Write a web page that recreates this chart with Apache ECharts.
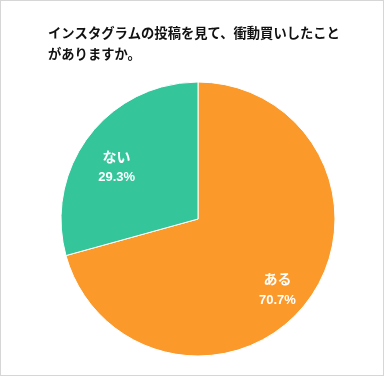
<!DOCTYPE html>
<html><head><meta charset="utf-8">
<script src="https://cdn.jsdelivr.net/npm/echarts@6/dist/echarts.min.js"></script>
<style>
html,body{margin:0;padding:0;background:#fff;}
#c{position:absolute;left:0;top:0;width:382px;height:374px;border:1px solid #d6d6d6;}
</style></head>
<body><div id="c"></div>
<script>
const titleText = 'インスタグラムの投稿を見て、衝動買いしたこと\nがありますか。';
const categories = ['ある', 'ない'];
const values = [70.7, 29.3];
const colors = ['#fb9a2b', '#35c59b'];

const chart = echarts.init(document.getElementById('c'));
const data = categories.map((n, i) => ({ name: n, value: values[i], itemStyle: { color: colors[i] } }));
const font = '"Liberation Sans", "Noto Sans CJK JP", sans-serif';
chart.setOption({
  animation: false,
  title: {
    text: titleText, left: 42, top: 18,
    textStyle: { fontSize: 13.3, fontWeight: 'bold', color: '#111', lineHeight: 21, fontFamily: font }
  },
  series: [
    {
      type: 'pie', center: [197, 218], radius: [0, 137], startAngle: 90, clockwise: true,
      data: data, silent: true,
      itemStyle: { borderColor: '#fff', borderWidth: 1 },
      label: { show: false }, labelLine: { show: false }
    },
    {
      type: 'pie', center: [197, 218], radius: [0, 196], startAngle: 90, clockwise: true,
      data: data.map(d => ({ name: d.name, value: d.value, itemStyle: { color: 'rgba(0,0,0,0)' } })),
      silent: true, z: 5,
      label: {
        show: true, position: 'inside', color: '#fff', fontFamily: font, offset: [-1, 10],
        fontWeight: 'bold', align: 'center',
        formatter: p => '{a|' + p.name + '}\n{b|' + p.value.toFixed(1) + '%}',
        rich: {
          a: { fontSize: 14, fontWeight: 'bold', color: '#fff', lineHeight: 20, fontFamily: font },
          b: { fontSize: 13, fontWeight: 'bold', color: '#fff', lineHeight: 20, fontFamily: font }
        }
      },
      labelLine: { show: false }
    }
  ]
});
</script></body></html>
